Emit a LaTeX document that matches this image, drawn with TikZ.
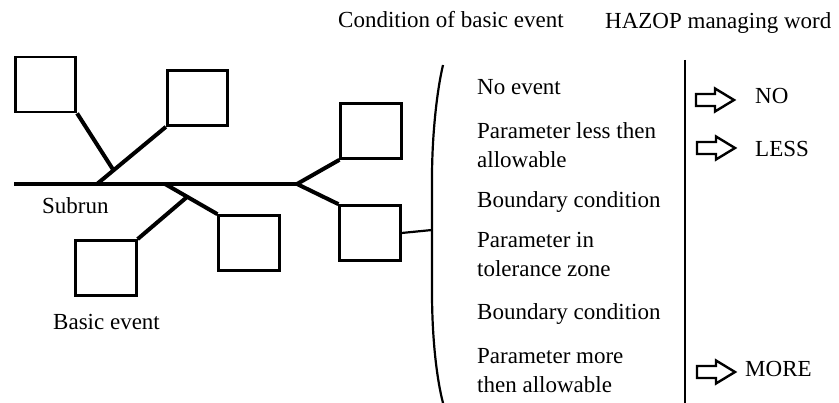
\documentclass[tikz,border=0pt]{standalone}
\usepackage{fontspec}
\setmainfont{Liberation Serif}
\begin{document}
\begin{tikzpicture}[x=1pt,y=-1pt,
  evbox/.style={draw,line width=2.7pt,minimum width=60.5pt,minimum height=55pt,inner sep=0pt},
  bone/.style={line width=4pt},
  lbl/.style={anchor=base west,inner sep=0pt,font=\fontsize{23}{29}\selectfont},
  thin/.style={line width=2.2pt},
  hollowarr/.pic={\draw[line width=2.4pt,line join=miter] (0,-6) -- (19,-6) -- (19,-11.5) -- (38,0) -- (19,11.5) -- (19,6) -- (0,6) -- cycle;}
]
\useasboundingbox (0,0) rectangle (839,403);
% boxes
\node[evbox] (b1) at (45.5,84.5) {};
\node[evbox] (b2) at (197.5,98) {};
\node[evbox] (b3) at (371,131) {};
\node[evbox] (b4) at (370,233) {};
\node[evbox] (b5) at (249,243) {};
\node[evbox] (b6) at (106,268) {};
% junctions
\coordinate (s0) at (14,184);
\coordinate (fork) at (297,184);
\coordinate (j1) at (113,169.5);
\coordinate (j2) at (97,184);
\coordinate (j3) at (165,184);
\coordinate (j4) at (187,197);
% skeleton
\draw[bone] (s0) -- (fork);
\draw[bone] (fork) -- (b3.south west);
\draw[bone] (fork) -- (b4.north west);
\draw[bone] (j2) -- (b2.south west);
\draw[bone] (b1.south east) -- (j1);
\draw[bone] (j3) -- (b5.north west);
\draw[bone] (b6.north east) -- (j4);
% bracket
\coordinate (brtop) at (443,65);
\coordinate (bru) at (432,178);
\coordinate (brmid) at (432,230);
\coordinate (brl) at (432,292);
\coordinate (brbot) at (443,403);
\draw[thin] (brtop) .. controls (436,95) and (432,140) .. (bru) -- (brl) .. controls (432,340) and (437,380) .. (brbot);
\draw[thin] (b4.east) -- (brmid);
% separator
\coordinate (vtop) at (685,60);
\coordinate (vbot) at (685,403);
\draw[line width=2.5pt] (vtop) -- (vbot);
% headers
\node[lbl] (h1) at (338,28) {Condition of basic event};
\node[lbl] (h2) at (605,29) {HAZOP managing word};
% labels left
\node[lbl] (sub) at (42,214) {Subrun};
\node[lbl] (bev) at (53,330) {Basic event};
% conditions
\node[lbl] (c1) at (477,95) {No event};
\node[lbl] (c2a) at (477,139) {Parameter less then};
\node[lbl] (c2b) at (477,168) {allowable};
\node[lbl] (c3) at (477,208) {Boundary condition};
\node[lbl] (c4a) at (477,248) {Parameter in};
\node[lbl] (c4b) at (477,277) {tolerance zone};
\node[lbl] (c5) at (477,320) {Boundary condition};
\node[lbl] (c6a) at (477,364) {Parameter more};
\node[lbl] (c6b) at (477,393) {then allowable};
% guide words
\pic at (696,100) {hollowarr};
\pic at (697,148) {hollowarr};
\pic at (697,372) {hollowarr};
\node[lbl] (w1) at (755,104) {NO};
\node[lbl] (w2) at (755,157) {LESS};
\node[lbl] (w3) at (745,377) {MORE};
\end{tikzpicture}
\end{document}
